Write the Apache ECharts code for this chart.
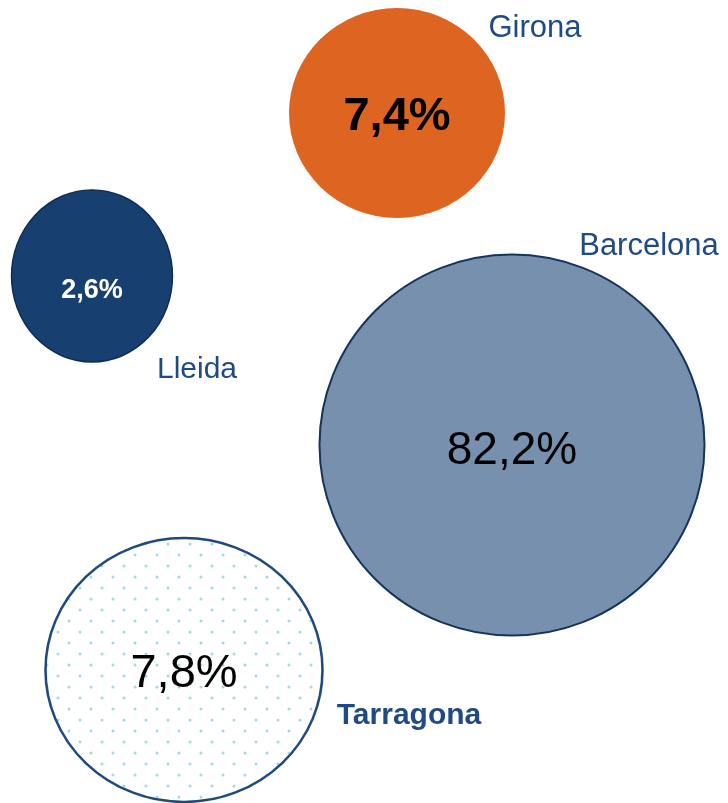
<!DOCTYPE html>
<html>
<head>
<meta charset="utf-8">
<script src="https://cdn.jsdelivr.net/npm/echarts@6/dist/echarts.min.js"></script>
<style>
  html, body { margin: 0; padding: 0; background: #fff; }
  #chart { width: 728px; height: 803px; }
</style>
</head>
<body>
<div id="chart"></div>
<script>
// bubble data (position on an unscaled 728 x 803 plane, share in %)
const cities = ['Girona', 'Lleida', 'Barcelona', 'Tarragona']
const shares = [7.4, 2.6, 82.2, 7.8]
const bubbleX = [397, 92, 512, 184]
const bubbleY = [113, 276, 445, 670]

// layout / style
const bubbleSize = [[216, 210], [161, 172], [385, 381], [277, 264]]
const namePos = [[535, 28], [197, 370], [649, 246], [409, 716]]
const valueOffset = [[0, 4], [0, 15], [0, 6], [0, 4]]
const valueFont = [
  {fontSize: 47, fontWeight: 'bold', color: '#000'},
  {fontSize: 27, fontWeight: 'bold', color: '#fff'},
  {fontSize: 46, fontWeight: 'normal', color: '#000'},
  {fontSize: 47, fontWeight: 'normal', color: '#000'}
]
const nameFont = [
  {fontSize: 31, fontWeight: 'normal'},
  {fontSize: 30, fontWeight: 'normal'},
  {fontSize: 31, fontWeight: 'normal'},
  {fontSize: 30, fontWeight: 'bold'}
]

function dotPattern () {
  let c = document.createElement('canvas')
  c.width = 22
  c.height = 22
  let ctx = c.getContext('2d')
  ctx.fillStyle = '#fff'
  ctx.fillRect(0, 0, 22, 22)
  ctx.fillStyle = '#a3d8e5'
  ctx.beginPath()
  ctx.arc(6, 6, 1.5, 0, Math.PI * 2)
  ctx.arc(17, 17, 1.5, 0, Math.PI * 2)
  ctx.fill()
  return c
}

// symbols are drawn at unit size and scaled, so the pattern is scaled back
const tarraSize = bubbleSize[3]
const styles = [
  {color: '#de6421', borderWidth: 0},
  {color: '#173f6f', borderColor: '#0f2c52', borderWidth: 1.5},
  {color: '#7790ae', borderColor: '#15345c', borderWidth: 2},
  {
    color: {image: dotPattern(), repeat: 'repeat', scaleX: 2 / tarraSize[0], scaleY: 2 / tarraSize[1]},
    borderColor: '#1f4a7c',
    borderWidth: 2.5
  }
]

const ellipse = 'path://M0,50 A50,50 0 1,1 100,50 A50,50 0 1,1 0,50 Z'
const fmt = v => v.toFixed(1).replace('.', ',') + '%'

let chart = echarts.init(document.getElementById('chart'))
let option = {
  animation: false,
  grid: {left: 0, right: 0, top: 0, bottom: 0},
  xAxis: {type: 'value', min: 0, max: 728, show: false},
  yAxis: {type: 'value', min: 0, max: 803, inverse: true, show: false},
  series: [
    {
      name: 'bubbles',
      type: 'scatter',
      symbol: ellipse,
      data: cities.map((c, i) => ({
        name: c,
        value: [bubbleX[i], bubbleY[i], shares[i]],
        symbolSize: bubbleSize[i],
        itemStyle: Object.assign({opacity: 1}, styles[i]),
        label: Object.assign({
          show: true,
          position: 'inside',
          offset: valueOffset[i],
          fontFamily: 'Liberation Sans',
          formatter: p => fmt(p.value[2])
        }, valueFont[i])
      }))
    },
    {
      name: 'names',
      type: 'scatter',
      symbolSize: 0,
      silent: true,
      itemStyle: {opacity: 1},
      data: cities.map((c, i) => ({
        name: c,
        value: namePos[i],
        label: Object.assign({
          show: true,
          position: 'inside',
          formatter: '{b}',
          fontFamily: 'Liberation Sans',
          color: '#1f4a82'
        }, nameFont[i])
      }))
    }
  ]
}
chart.setOption(option)
</script>
</body>
</html>
